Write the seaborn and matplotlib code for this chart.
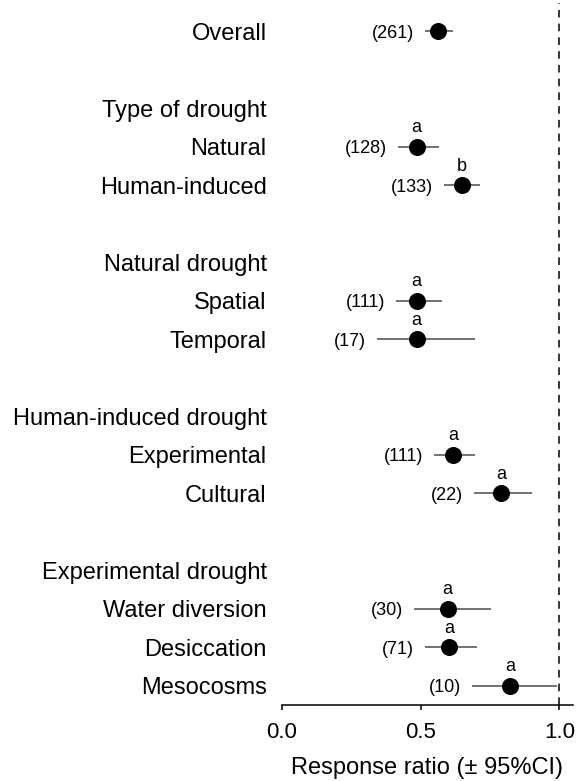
import numpy as np
import pandas as pd
import matplotlib
matplotlib.use("Agg")
import matplotlib.pyplot as plt
import seaborn as sns

# ---- data ----
rows = ["Overall", "", "Type of drought", "Natural", "Human-induced", "",
        "Natural drought", "Spatial", "Temporal", "",
        "Human-induced drought", "Experimental", "Cultural", "",
        "Experimental drought", "Water diversion", "Desiccation", "Mesocosms"]
means = [0.564, np.nan, np.nan, 0.486, 0.648, np.nan,
         np.nan, 0.486, 0.486, np.nan,
         np.nan, 0.617, 0.790, np.nan,
         np.nan, 0.598, 0.604, 0.822]
ci_low = [0.515, np.nan, np.nan, 0.420, 0.585, np.nan,
          np.nan, 0.412, 0.342, np.nan,
          np.nan, 0.550, 0.693, np.nan,
          np.nan, 0.477, 0.517, 0.686]
ci_high = [0.618, np.nan, np.nan, 0.568, 0.714, np.nan,
           np.nan, 0.577, 0.696, np.nan,
           np.nan, 0.695, 0.900, np.nan,
           np.nan, 0.753, 0.705, 0.990]
n_obs = ["261", "", "", "128", "133", "",
         "", "111", "17", "",
         "", "111", "22", "",
         "", "30", "71", "10"]
letters = ["", "", "", "a", "b", "",
           "", "a", "a", "",
           "", "a", "a", "",
           "", "a", "a", "a"]
x_ticks = [0.0, 0.5, 1.0]
x_label = "Response ratio (± 95%CI)"

df = pd.DataFrame({"label": rows, "mean": means, "lo": ci_low, "hi": ci_high,
                   "n": n_obs, "letter": letters})
df["pos"] = np.arange(len(df))
pts = df.dropna(subset=["mean"])

# ---- style ----
sns.set_style("ticks")
plt.rcParams["font.family"] = ["Liberation Sans", "DejaVu Sans"]
plt.rcParams["text.color"] = "black"
plt.rcParams["axes.labelcolor"] = "black"
plt.rcParams["xtick.color"] = "black"
plt.rcParams["ytick.color"] = "black"

W, H, DPI = 578, 781, 100
fig = plt.figure(figsize=(W / DPI, H / DPI), dpi=DPI)
ax_left, ax_right = 281.7 / W, 573.2 / W
ax_bottom, ax_top = (H - 705) / H, (H - 3) / H
ax = fig.add_axes([ax_left, ax_bottom, ax_right - ax_left, ax_top - ax_bottom])

# reference line
ax.axvline(1.0, color="black", lw=1.1, ls=(0, (5, 4)), zorder=1)

# CI lines
ax.hlines(pts["pos"], pts["lo"], pts["hi"], color="#666666", lw=1.3, zorder=2)

# points
sns.scatterplot(data=pts, x="mean", y="pos", s=150, color="black",
                edgecolor="black", linewidth=0, ax=ax, zorder=3, legend=False)

# annotations
for _, r in pts.iterrows():
    ax.annotate(f"({r['n']})", xy=(r["lo"], r["pos"]), xytext=(-7.9, 0),
                textcoords="offset points", ha="right", va="center_baseline",
                fontsize=13, color="black")
    if r["letter"]:
        ax.annotate(r["letter"], xy=(r["mean"], r["pos"]), xytext=(0, 10.5),
                    textcoords="offset points", ha="center", va="baseline",
                    fontsize=13, color="black")

# row spacing: ylims computed from pixel layout
n_rows = len(rows)
first_px, last_px = 31.0, 686.0
step = (last_px - first_px) / (n_rows - 1)
top_idx = (3 - first_px) / step
bot_idx = (705 - first_px) / step
ax.set_ylim(bot_idx, top_idx)
ax.set_xlim(0, 1.05)

ax.set_yticks(df["pos"])
ax.set_yticklabels(df["label"], fontsize=17)
ax.tick_params(axis="y", length=0, pad=10.8)
ax.set_xticks(x_ticks)
ax.set_xticklabels([f"{t:.1f}" for t in x_ticks], fontsize=16)
ax.tick_params(axis="x", length=3.6, width=1.1, pad=9, colors="black")
ax.set_xlabel(x_label, fontsize=17, labelpad=10)
ax.set_ylabel("")

for s in ["left", "top", "right"]:
    ax.spines[s].set_visible(False)
ax.spines["bottom"].set_linewidth(1.1)
ax.spines["bottom"].set_color("black")

fig.savefig("out.png", dpi=DPI)
